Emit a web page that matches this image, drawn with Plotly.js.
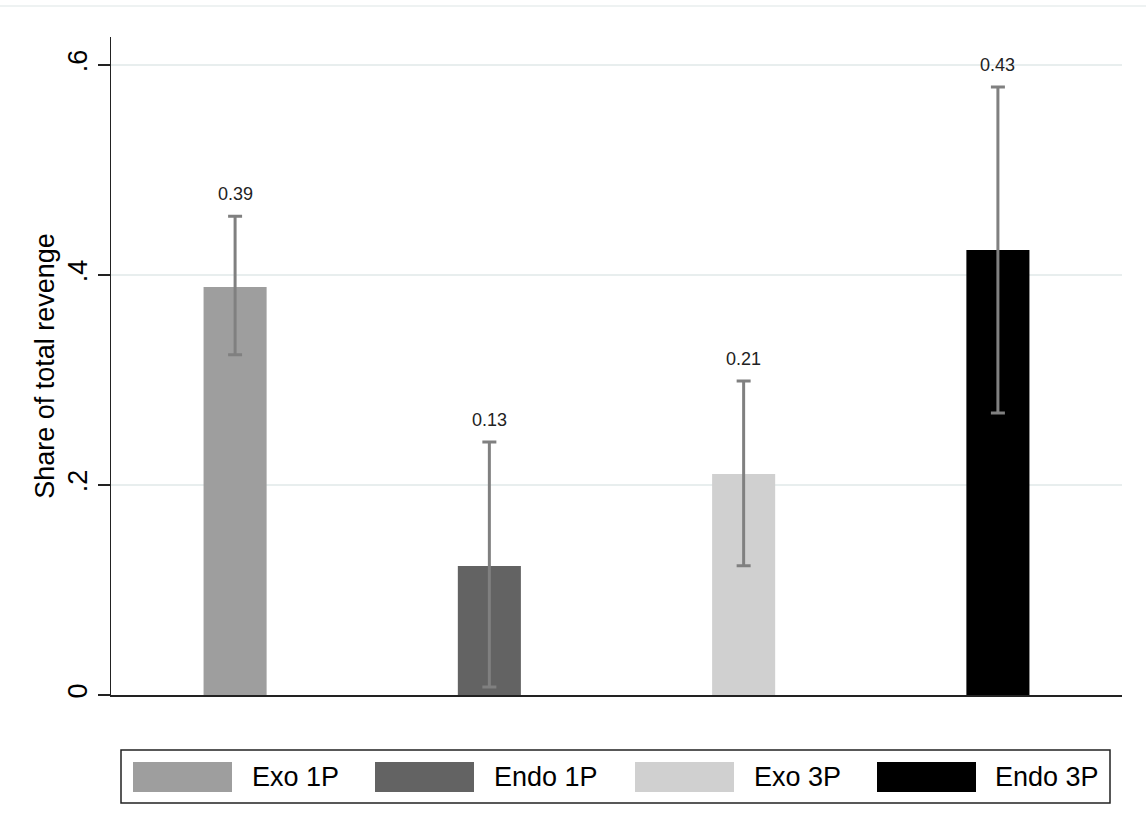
<!DOCTYPE html>
<html>
<head>
<meta charset="utf-8">
<script src="https://cdn.plot.ly/plotly-3.0.1.min.js"></script>
<style>html,body{margin:0;padding:0;background:#fff;}#chart{width:1146px;height:836px;}</style>
</head>
<body>
<div id="chart"></div>
<script>
// ---- data ----
const categories = ["Exo 1P", "Endo 1P", "Exo 3P", "Endo 3P"];
const means      = [0.3886, 0.1229, 0.2105, 0.4238];
const upperCI    = [0.456, 0.241, 0.299, 0.579];
const lowerCI    = [0.324, 0.0076, 0.123, 0.2686];
const valueLabels = ["0.39", "0.13", "0.21", "0.43"];
const colors     = ["#9e9e9e", "#636363", "#d0d0d0", "#000000"];
const yTickVals  = [0, 0.2, 0.4, 0.6];
const yTickText  = ["0", ".2", ".4", ".6"];

// ---- geometry helpers (layout only) ----
const L = 111, T = 37, W = 1011, H = 658;
const px = v => (v - L) / W;
const py = v => (T + H - v) / H;

const FONT = "Liberation Sans, Arial, sans-serif";

const traces = categories.map((c, i) => ({
  type: "bar",
  name: c,
  x: [i + 1],
  y: [means[i]],
  width: 0.248,
  marker: {color: colors[i], line: {width: 0}},
  error_y: {
    type: "data", symmetric: false,
    array: [upperCI[i] - means[i]],
    arrayminus: [means[i] - lowerCI[i]],
    color: "#808080", thickness: 3, width: 7
  },
  showlegend: false,
  hoverinfo: "skip"
}));

const annotations = categories.map((c, i) => ({
  x: i + 1, y: upperCI[i], xref: "x", yref: "y",
  text: valueLabels[i], showarrow: false,
  yanchor: "middle", yshift: 22,
  font: {family: FONT, size: 18, color: "#222"}
}));

// custom legend (wide swatches like the original)
const swatchX = [133, 375, 635, 877];
const textX   = [250, 492, 752, 993];
const shapes = [
  {type: "line", xref: "paper", yref: "paper", x0: px(0), x1: px(1146), y0: py(6), y1: py(6),
   line: {color: "#eef2f2", width: 2}},
  {type: "rect", xref: "paper", yref: "paper", x0: px(121), x1: px(1110), y0: py(750), y1: py(803),
   line: {color: "#222", width: 1.5}, fillcolor: "rgba(0,0,0,0)"}
];
categories.forEach((c, i) => {
  shapes.push({type: "rect", xref: "paper", yref: "paper",
    x0: px(swatchX[i]), x1: px(swatchX[i] + 99), y0: py(762), y1: py(792),
    line: {width: 0}, fillcolor: colors[i]});
  annotations.push({xref: "paper", yref: "paper", x: px(textX[i]), y: py(777),
    xanchor: "left", yanchor: "middle", text: c, showarrow: false,
    font: {family: FONT, size: 27, color: "#000"}});
});

const layout = {
  width: 1146, height: 836,
  margin: {l: L, r: 1146 - L - W, t: T, b: 836 - T - H},
  paper_bgcolor: "#fff", plot_bgcolor: "#fff",
  font: {family: FONT, size: 27, color: "#000"},
  barmode: "overlay",
  showlegend: false,
  xaxis: {
    range: [0.512, 4.488], showticklabels: false, ticks: "", showgrid: false,
    zeroline: false, showline: true, linecolor: "#222", linewidth: 1.5, fixedrange: true
  },
  yaxis: {
    range: [0, 0.6267], tickvals: yTickVals, ticktext: yTickText, tickangle: -90,
    ticks: "outside", ticklen: 12, tickwidth: 1.5, tickcolor: "#222",
    showline: true, linecolor: "#222", linewidth: 1.5,
    showgrid: true, gridcolor: "#e8eeee", gridwidth: 2, zeroline: false,
    tickfont: {family: FONT, size: 27, color: "#000"},
    title: {text: "Share of total revenge", font: {family: FONT, size: 27, color: "#000"}, standoff: 0},
    automargin: false, fixedrange: true
  },
  shapes: shapes,
  annotations: annotations
};

Plotly.newPlot("chart", traces, layout, {displayModeBar: false, staticPlot: true});
</script>
</body>
</html>
